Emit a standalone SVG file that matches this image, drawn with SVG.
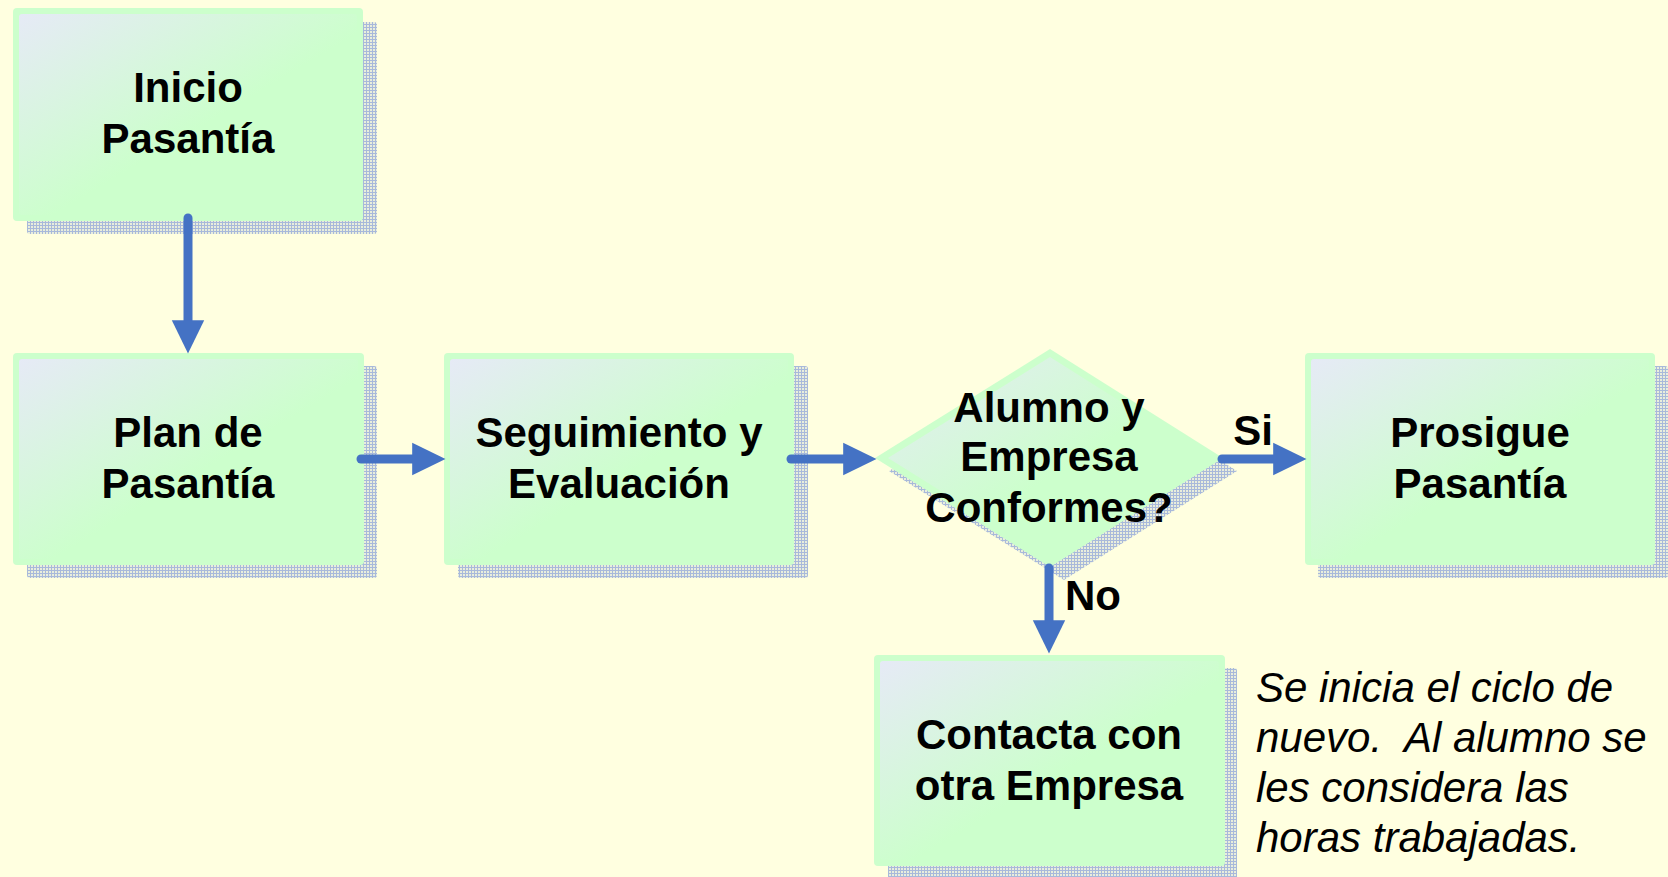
<svg xmlns="http://www.w3.org/2000/svg" width="1668" height="877" viewBox="0 0 1668 877">
<defs>
<pattern id="dots" width="3" height="3" patternUnits="userSpaceOnUse">
<rect width="3" height="3" fill="#e9eedc"/>
<rect x="0" y="0" width="1" height="3" fill="#a8b9da"/>
<rect x="0" y="0" width="3" height="1" fill="#a8b9da"/>
</pattern>
<linearGradient id="glow" x1="0" y1="0" x2="1" y2="1">
<stop offset="0" stop-color="#e6eaf6"/>
<stop offset="0.55" stop-color="#ccffcc"/>
<stop offset="1" stop-color="#ccffcc"/>
</linearGradient>
<marker id="ah" markerWidth="4" markerHeight="4" refX="0.2" refY="2" orient="auto" markerUnits="strokeWidth">
<path d="M0,0.2 L3.7,2 L0,3.8 Z" fill="#4472c4"/>
</marker>
<style>
.shadow{fill:url(#dots)}
.box{fill:#ccffcc}
.inner{fill:url(#glow)}
.lbl{font-family:"Liberation Sans",Arial,sans-serif;font-weight:bold;font-size:42px;fill:#000;text-anchor:middle}
.note{font-family:"Liberation Sans",Arial,sans-serif;font-style:italic;font-size:42px;fill:#000;white-space:pre}
.conn{stroke:#4472c4;stroke-width:9;fill:none;stroke-linecap:round;marker-end:url(#ah)}
</style>
</defs>
<rect width="1668" height="877" fill="#ffffe0"/>

<g id="inicio">
<rect class="shadow" x="27" y="22" width="350" height="212" rx="3"/>
<rect class="box" x="13" y="8" width="350" height="213" rx="4"/>
<rect class="inner" x="19" y="14" width="338" height="201" rx="3"/>
<text class="lbl" x="188" y="102">Inicio</text>
<text class="lbl" x="188" y="153">Pasantía</text>
</g>

<g id="plan">
<rect class="shadow" x="27" y="366" width="350" height="212" rx="3"/>
<rect class="box" x="13" y="353" width="351" height="212" rx="4"/>
<rect class="inner" x="19" y="359" width="339" height="200" rx="3"/>
<text class="lbl" x="188" y="447">Plan de</text>
<text class="lbl" x="188" y="498">Pasantía</text>
</g>

<g id="seguimiento">
<rect class="shadow" x="458" y="366" width="350" height="212" rx="3"/>
<rect class="box" x="444" y="353" width="350" height="212" rx="4"/>
<rect class="inner" x="450" y="359" width="338" height="200" rx="3"/>
<text class="lbl" x="619" y="447">Seguimiento y</text>
<text class="lbl" x="619" y="498">Evaluación</text>
</g>

<g id="decision">
<polygon class="shadow" points="1064,362 1237,471 1064,580 889,471"/>
<polygon class="box" points="1050,349 1223,458 1050,567 875,458"/>
<polygon class="inner" points="1050,357 1210,458 1050,559 888,458"/>
<text class="lbl" x="1049" y="422">Alumno y</text>
<text class="lbl" x="1049" y="471">Empresa</text>
<text class="lbl" x="1049" y="522">Conformes?</text>
</g>

<g id="prosigue">
<rect class="shadow" x="1318" y="366" width="350" height="212" rx="3"/>
<rect class="box" x="1305" y="353" width="350" height="212" rx="4"/>
<rect class="inner" x="1311" y="359" width="338" height="200" rx="3"/>
<text class="lbl" x="1480" y="447">Prosigue</text>
<text class="lbl" x="1480" y="498">Pasantía</text>
</g>

<g id="contacta">
<rect class="shadow" x="888" y="668" width="349" height="212" rx="3"/>
<rect class="box" x="874" y="655" width="351" height="211" rx="4"/>
<rect class="inner" x="880" y="661" width="339" height="199" rx="3"/>
<text class="lbl" x="1049" y="749">Contacta con</text>
<text class="lbl" x="1049" y="800">otra Empresa</text>
</g>

<g id="note">
<text class="note" x="1256" y="702">Se inicia el ciclo de</text>
<text class="note" x="1256" y="752">nuevo.  Al alumno se</text>
<text class="note" x="1256" y="802">les considera las</text>
<text class="note" x="1256" y="852">horas trabajadas.</text>
</g>

<g id="connectors">
<line class="conn" x1="188" y1="218" x2="188" y2="322"/>
<line class="conn" x1="361" y1="459" x2="414" y2="459"/>
<line class="conn" x1="791" y1="459" x2="845" y2="459"/>
<line class="conn" x1="1222" y1="459" x2="1275" y2="459"/>
<line class="conn" x1="1049" y1="568" x2="1049" y2="622"/>
<text class="lbl" x="1253" y="445">Si</text>
<text class="lbl" x="1093" y="610">No</text>
</g>
</svg>
